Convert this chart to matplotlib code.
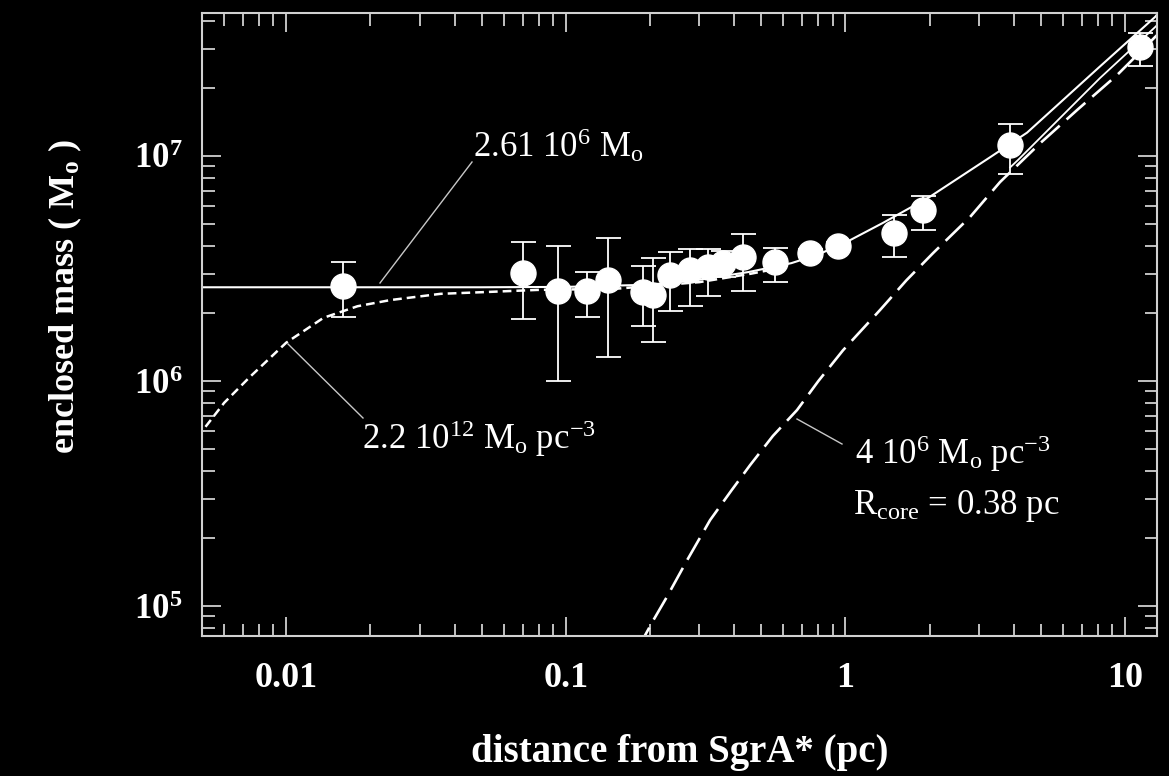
import numpy as np
import matplotlib
matplotlib.use("Agg")
import matplotlib.pyplot as plt

# measured points: distance (pc), enclosed mass (Msun) and error range
r_pc = [0.016, 0.070, 0.094, 0.119, 0.141, 0.189, 0.205, 0.236, 0.278, 0.323,
        0.365, 0.431, 0.560, 0.746, 0.944, 1.49, 1.89, 3.88, 11.3]
m_obs = [2.64e6, 3.02e6, 2.51e6, 2.50e6, 2.81e6, 2.49e6, 2.41e6, 2.96e6, 3.11e6, 3.21e6,
         3.34e6, 3.56e6, 3.38e6, 3.70e6, 4.00e6, 4.55e6, 5.75e6, 1.12e7, 3.05e7]
m_hi = [3.38e6, 4.15e6, 3.98e6, 3.05e6, 4.33e6, 3.24e6, 3.52e6, 3.74e6, 3.86e6, 3.86e6,
        3.80e6, 4.50e6, 3.90e6, 3.85e6, 4.15e6, 5.47e6, 6.64e6, 1.39e7, 3.52e7]
m_lo = [1.92e6, 1.89e6, 1.00e6, 1.92e6, 1.28e6, 1.75e6, 1.49e6, 2.05e6, 2.15e6, 2.39e6,
        2.90e6, 2.51e6, 2.75e6, 3.55e6, 3.85e6, 3.56e6, 4.69e6, 8.32e6, 2.51e7]

# point mass + cluster (solid)
r_pm = [0.005, 0.05, 0.1, 0.2, 0.3, 0.45, 0.64, 0.8, 1.04, 1.36, 2.0, 3.3, 4.46, 8.1, 12.8, 13.5]
m_pm = [2.61e6, 2.61e6, 2.62e6, 2.68e6, 2.82e6, 3.05e6, 3.34e6, 3.65e6, 4.23e6, 5.04e6,
        6.58e6, 9.9e6, 1.27e7, 2.49e7, 4.15e7, 4.5e7]

# dark cluster 2.2e12 Msun/pc^3 (dotted)
r_dc = [0.0048, 0.006, 0.0074, 0.01, 0.0136, 0.018, 0.0236, 0.0356, 0.0536, 0.079,
        0.15, 0.3, 0.46, 0.6]
m_dc = [5.6e5, 8.0e5, 1.04e6, 1.48e6, 1.91e6, 2.15e6, 2.29e6, 2.44e6, 2.49e6, 2.54e6,
        2.57e6, 2.75e6, 3.0e6, 3.2e6]

# upper-right branch of the dark cluster model
r_dc2 = [3.88, 4.14, 8.13, 12.8, 13.5]
m_dc2 = [8.9e6, 9.6e6, 2.22e7, 3.74e7, 4.0e7]

# stellar cluster 4e6 Msun/pc^3, Rcore 0.38 pc (dashed)
r_sc = [0.18, 0.205, 0.230, 0.27, 0.328, 0.39, 0.456, 0.55, 0.671, 0.80, 0.98, 1.33,
        1.65, 2.06, 2.79, 3.57, 4.97, 6.73, 9.36, 12.8, 13.5]
m_sc = [6.4e4, 8.6e4, 1.10e5, 1.58e5, 2.41e5, 3.25e5, 4.23e5, 5.7e5, 7.43e5, 1.0e6,
        1.37e6, 2.07e6, 2.8e6, 3.71e6, 5.36e6, 7.66e6, 1.14e7, 1.60e7, 2.29e7, 3.38e7, 3.6e7]

xticks = [0.01, 0.1, 1, 10]
xtick_lbl = ["0.01", "0.1", "1", "10"]
yticks = [1e5, 1e6, 1e7]
ytick_lbl = [r"$\mathbf{10^{5}}$", r"$\mathbf{10^{6}}$", r"$\mathbf{10^{7}}$"]

plt.rcParams["font.family"] = ["Liberation Serif", "DejaVu Serif"]
plt.rcParams["mathtext.fontset"] = "custom"
plt.rcParams["mathtext.rm"] = "Liberation Serif"
plt.rcParams["mathtext.it"] = "Liberation Serif"
plt.rcParams["mathtext.bf"] = "Liberation Serif:bold"

W, H = 1169, 776
fig = plt.figure(figsize=(W / 100, H / 100), dpi=100, facecolor="black")
ax = fig.add_axes([202 / W, 1 - 636 / H, 955 / W, 623 / H])
ax.set_facecolor("black")
ax.set_xscale("log")
ax.set_yscale("log")
ax.set_xlim(0.005, 13.0)
ax.set_ylim(7.36e4, 4.32e7)

fg = "white"
ax.plot(r_pm, m_pm, color=fg, lw=1.5, solid_capstyle="butt")
ax.plot(r_dc, m_dc, color=fg, lw=1.8, dashes=(3.5, 2.0))
ax.plot(r_dc2, m_dc2, color=fg, lw=1.3)
ax.plot(r_sc, m_sc, color=fg, lw=1.9, dashes=(9.5, 3.5))

yerr = [np.array(m_obs) - np.array(m_lo), np.array(m_hi) - np.array(m_obs)]
ax.errorbar(r_pc, m_obs, yerr=yerr, fmt="o", color=fg, ms=18, mec=fg,
            elinewidth=1.3, capsize=9, capthick=1.3, zorder=5)

for s in ax.spines.values():
    s.set_color("#d0d0d0")
    s.set_linewidth(1.5)
ax.set_xticks(xticks)
ax.set_xticklabels(xtick_lbl, fontweight="bold", fontsize=26)
ax.set_yticks(yticks)
ax.set_yticklabels(ytick_lbl, fontsize=25)
ax.tick_params(which="both", direction="in", top=True, right=True,
               color="#d0d0d0", labelcolor=fg)
ax.tick_params(which="major", length=14, width=1.3)
ax.tick_params(which="minor", length=9, width=1.3)
ax.tick_params(axis="x", which="major", pad=19)
ax.tick_params(axis="y", which="major", pad=14)

ax.set_xlabel("distance from SgrA* (pc)", color=fg, fontsize=28, fontweight="bold")
ax.xaxis.set_label_coords(0.5, -0.158)
ax.set_ylabel(r"enclosed mass ( M$_\mathbf{o}$ )", color=fg, fontsize=26, fontweight="bold")
ax.yaxis.set_label_coords(-0.124, 0.545)


def fx(px):
    return px / W


def fy(py):
    return 1 - py / H


lc = "#c8c8c8"
fig.add_artist(plt.Line2D([fx(380), fx(472)], [fy(283), fy(162)], color=lc, lw=1.0))
fig.add_artist(plt.Line2D([fx(288), fx(363)], [fy(344), fy(418)], color=lc, lw=1.0))
fig.add_artist(plt.Line2D([fx(797), fx(842)], [fy(419), fy(444)], color=lc, lw=1.0))

fs = 25
fig.text(fx(473), fy(157), r"2.61 10$^{6}$ M$_{\rm o}$", color=fg, fontsize=fs, va="baseline")
fig.text(fx(362), fy(449), r"2.2 10$^{12}$ M$_{\rm o}$ pc$^{-3}$", color=fg, fontsize=fs, va="baseline")
fig.text(fx(855), fy(464), r"4 10$^{6}$ M$_{\rm o}$ pc$^{-3}$", color=fg, fontsize=fs, va="baseline")
fig.text(fx(853), fy(514), r"R$_{\rm core}$ = 0.38 pc", color=fg, fontsize=fs, va="baseline")

fig.savefig("out.png", dpi=100, facecolor="black")
